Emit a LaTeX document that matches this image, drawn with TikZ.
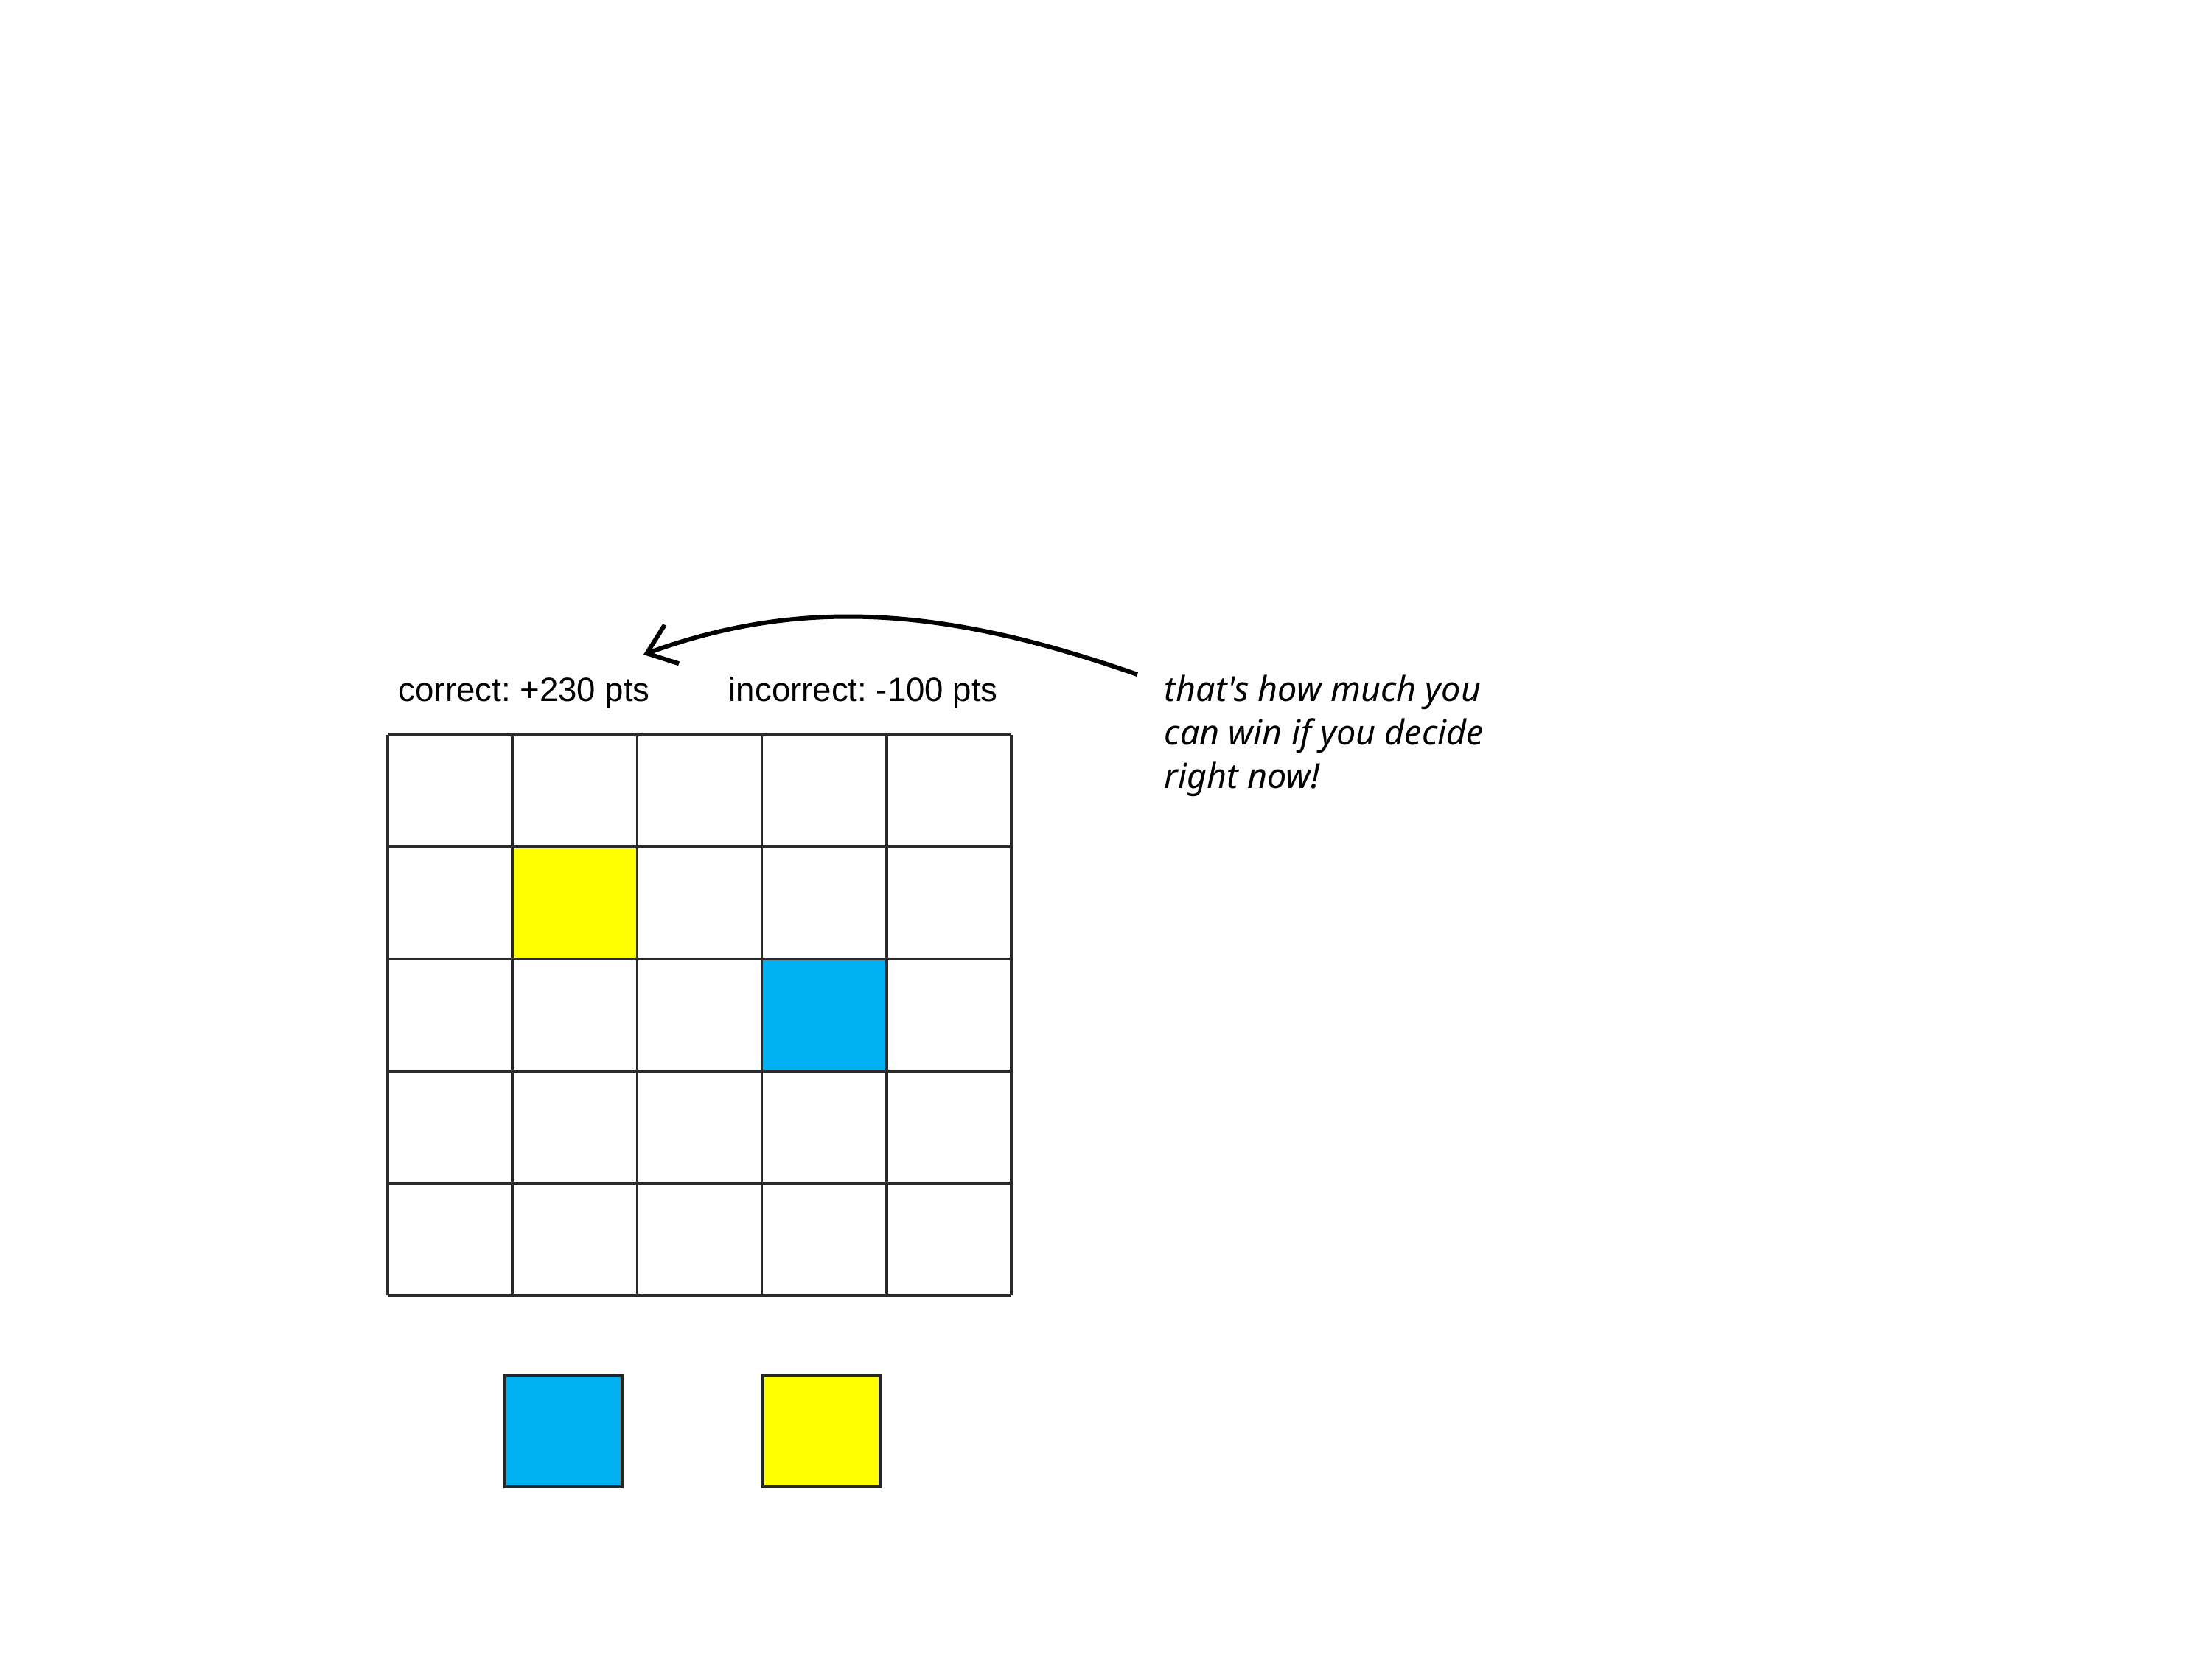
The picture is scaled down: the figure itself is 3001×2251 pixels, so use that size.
\documentclass[tikz,border=0pt]{standalone}
\usepackage{fontspec}
\setmainfont{Liberation Sans}
\newfontfamily\handfont{Noto Sans}
\usetikzlibrary{arrows.meta}
\definecolor{cellyellow}{HTML}{FFFF00}
\definecolor{cellblue}{HTML}{00B0F0}
\definecolor{gridgray}{HTML}{2A2A2A}
\frenchspacing
\tikzset{
  gridline/.style={draw=gridgray, line width=0.9pt},
  label/.style={font=\fontsize{11.4pt}{13pt}\selectfont, inner sep=0pt, anchor=base west},
  note/.style={font=\fontsize{11.7pt}{14.75pt}\selectfont\handfont\itshape, inner sep=0pt, anchor=north west, align=left},
  cellbox/.style={minimum width=42.3pt, minimum height=38pt, inner sep=0pt, draw=none},
  swatch/.style={minimum width=39.75pt, minimum height=37.75pt, inner sep=0pt, draw=black!85, line width=1pt},
  pointer/.style={line width=1.5pt, -{Straight Barb[length=9pt, width=14pt, line width=1.5pt]}}
}
\begin{document}
\begin{tikzpicture}[x=0.25pt, y=-0.25pt]
\useasboundingbox (0,0) rectangle (3001,2251);
% coloured cells
\node[cellbox, fill=cellyellow] (yc) at (779.8,1225) {};
\node[cellbox, fill=cellblue] (bc) at (1118.2,1377) {};
% grid
\foreach \i in {0,...,5} {
  \draw[gridline] ({526+169.2*\i},997) -- ({526+169.2*\i},1757);
  \draw[gridline] (526,{997+152*\i}) -- (1372,{997+152*\i});
}
% labels
\node[label] (corr) at (540,951) {correct: +230 pts};
\node[label] (inc) at (988,951) {incorrect: -100 pts};
% note
\node[note] (hand) at (1579,915) {that's how much you\\can win if you decide\\right now!};
% arrow
\coordinate (arrS) at (1543,915);
\coordinate (arrE) at (873,888);
\draw[pointer] (arrS) .. controls (1300,830) and (1100,805) .. (arrE);
% swatches
\node[swatch, fill=cellblue] (sb) at (764.5,1941.5) {};
\node[swatch, fill=cellyellow] (sy) at (1114.5,1941.5) {};
\end{tikzpicture}
\end{document}
